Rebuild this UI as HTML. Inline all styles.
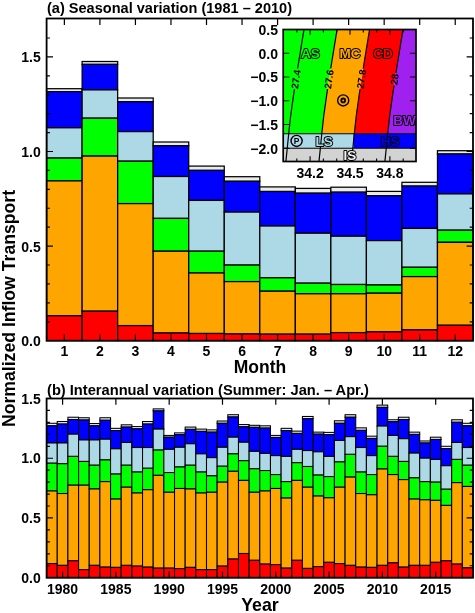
<!DOCTYPE html>
<html>
<head>
<meta charset="utf-8">
<title>Normalized Inflow Transport</title>
<style>
html,body{margin:0;padding:0;background:#fff;}
body{width:475px;height:613px;overflow:hidden;font-family:"Liberation Sans",sans-serif;}
svg{display:block;will-change:transform;}

</style>
</head>
<body>
<svg width="475" height="613" viewBox="0 0 475 613">
<rect x="0" y="0" width="475" height="613" fill="#fff"/>
<g id="panelA">
<rect x="46.6" y="88.7" width="35.53" height="3" fill="#ecece6" stroke="#000" stroke-width="1.25"/>
<rect x="46.6" y="91.7" width="35.53" height="36.1" fill="#0000ff" stroke="#000" stroke-width="1.25"/>
<rect x="46.6" y="127.8" width="35.53" height="30.3" fill="#add8e6" stroke="#000" stroke-width="1.25"/>
<rect x="46.6" y="158.1" width="35.53" height="22.8" fill="#00ff00" stroke="#000" stroke-width="1.25"/>
<rect x="46.6" y="180.9" width="35.53" height="134.9" fill="#ffa500" stroke="#000" stroke-width="1.25"/>
<rect x="46.6" y="315.8" width="35.53" height="24.9" fill="#ff0000" stroke="#000" stroke-width="1.25"/>
<rect x="82.13" y="61.5" width="35.53" height="2.9" fill="#ecece6" stroke="#000" stroke-width="1.25"/>
<rect x="82.13" y="64.4" width="35.53" height="25.5" fill="#0000ff" stroke="#000" stroke-width="1.25"/>
<rect x="82.13" y="89.9" width="35.53" height="28.3" fill="#add8e6" stroke="#000" stroke-width="1.25"/>
<rect x="82.13" y="118.2" width="35.53" height="37.9" fill="#00ff00" stroke="#000" stroke-width="1.25"/>
<rect x="82.13" y="156.1" width="35.53" height="155.1" fill="#ffa500" stroke="#000" stroke-width="1.25"/>
<rect x="82.13" y="311.2" width="35.53" height="29.5" fill="#ff0000" stroke="#000" stroke-width="1.25"/>
<rect x="117.67" y="98" width="35.53" height="3.8" fill="#ecece6" stroke="#000" stroke-width="1.25"/>
<rect x="117.67" y="101.8" width="35.53" height="29.8" fill="#0000ff" stroke="#000" stroke-width="1.25"/>
<rect x="117.67" y="131.6" width="35.53" height="29.6" fill="#add8e6" stroke="#000" stroke-width="1.25"/>
<rect x="117.67" y="161.2" width="35.53" height="42.4" fill="#00ff00" stroke="#000" stroke-width="1.25"/>
<rect x="117.67" y="203.6" width="35.53" height="122" fill="#ffa500" stroke="#000" stroke-width="1.25"/>
<rect x="117.67" y="325.6" width="35.53" height="15.1" fill="#ff0000" stroke="#000" stroke-width="1.25"/>
<rect x="153.2" y="142" width="35.53" height="3.8" fill="#ecece6" stroke="#000" stroke-width="1.25"/>
<rect x="153.2" y="145.8" width="35.53" height="30.7" fill="#0000ff" stroke="#000" stroke-width="1.25"/>
<rect x="153.2" y="176.5" width="35.53" height="41.9" fill="#add8e6" stroke="#000" stroke-width="1.25"/>
<rect x="153.2" y="218.4" width="35.53" height="32.8" fill="#00ff00" stroke="#000" stroke-width="1.25"/>
<rect x="153.2" y="251.2" width="35.53" height="81.8" fill="#ffa500" stroke="#000" stroke-width="1.25"/>
<rect x="153.2" y="333" width="35.53" height="7.7" fill="#ff0000" stroke="#000" stroke-width="1.25"/>
<rect x="188.73" y="166.1" width="35.53" height="4.3" fill="#ecece6" stroke="#000" stroke-width="1.25"/>
<rect x="188.73" y="170.4" width="35.53" height="30" fill="#0000ff" stroke="#000" stroke-width="1.25"/>
<rect x="188.73" y="200.4" width="35.53" height="50.8" fill="#add8e6" stroke="#000" stroke-width="1.25"/>
<rect x="188.73" y="251.2" width="35.53" height="21.8" fill="#00ff00" stroke="#000" stroke-width="1.25"/>
<rect x="188.73" y="273" width="35.53" height="60.5" fill="#ffa500" stroke="#000" stroke-width="1.25"/>
<rect x="188.73" y="333.5" width="35.53" height="7.2" fill="#ff0000" stroke="#000" stroke-width="1.25"/>
<rect x="224.27" y="176.7" width="35.53" height="4.6" fill="#ecece6" stroke="#000" stroke-width="1.25"/>
<rect x="224.27" y="181.3" width="35.53" height="30.8" fill="#0000ff" stroke="#000" stroke-width="1.25"/>
<rect x="224.27" y="212.1" width="35.53" height="53" fill="#add8e6" stroke="#000" stroke-width="1.25"/>
<rect x="224.27" y="265.1" width="35.53" height="16.5" fill="#00ff00" stroke="#000" stroke-width="1.25"/>
<rect x="224.27" y="281.6" width="35.53" height="52.4" fill="#ffa500" stroke="#000" stroke-width="1.25"/>
<rect x="224.27" y="334" width="35.53" height="6.7" fill="#ff0000" stroke="#000" stroke-width="1.25"/>
<rect x="259.8" y="186.9" width="35.53" height="4.6" fill="#ecece6" stroke="#000" stroke-width="1.25"/>
<rect x="259.8" y="191.5" width="35.53" height="34.5" fill="#0000ff" stroke="#000" stroke-width="1.25"/>
<rect x="259.8" y="226" width="35.53" height="51.8" fill="#add8e6" stroke="#000" stroke-width="1.25"/>
<rect x="259.8" y="277.8" width="35.53" height="13.4" fill="#00ff00" stroke="#000" stroke-width="1.25"/>
<rect x="259.8" y="291.2" width="35.53" height="43" fill="#ffa500" stroke="#000" stroke-width="1.25"/>
<rect x="259.8" y="334.2" width="35.53" height="6.5" fill="#ff0000" stroke="#000" stroke-width="1.25"/>
<rect x="295.33" y="188.4" width="35.53" height="4.8" fill="#ecece6" stroke="#000" stroke-width="1.25"/>
<rect x="295.33" y="193.2" width="35.53" height="40" fill="#0000ff" stroke="#000" stroke-width="1.25"/>
<rect x="295.33" y="233.2" width="35.53" height="50" fill="#add8e6" stroke="#000" stroke-width="1.25"/>
<rect x="295.33" y="283.2" width="35.53" height="10.6" fill="#00ff00" stroke="#000" stroke-width="1.25"/>
<rect x="295.33" y="293.8" width="35.53" height="40.4" fill="#ffa500" stroke="#000" stroke-width="1.25"/>
<rect x="295.33" y="334.2" width="35.53" height="6.5" fill="#ff0000" stroke="#000" stroke-width="1.25"/>
<rect x="330.87" y="187.2" width="35.53" height="5" fill="#ecece6" stroke="#000" stroke-width="1.25"/>
<rect x="330.87" y="192.2" width="35.53" height="44" fill="#0000ff" stroke="#000" stroke-width="1.25"/>
<rect x="330.87" y="236.2" width="35.53" height="48.3" fill="#add8e6" stroke="#000" stroke-width="1.25"/>
<rect x="330.87" y="284.5" width="35.53" height="9.3" fill="#00ff00" stroke="#000" stroke-width="1.25"/>
<rect x="330.87" y="293.8" width="35.53" height="38.8" fill="#ffa500" stroke="#000" stroke-width="1.25"/>
<rect x="330.87" y="332.6" width="35.53" height="8.1" fill="#ff0000" stroke="#000" stroke-width="1.25"/>
<rect x="366.4" y="191.4" width="35.53" height="4.4" fill="#ecece6" stroke="#000" stroke-width="1.25"/>
<rect x="366.4" y="195.8" width="35.53" height="44.8" fill="#0000ff" stroke="#000" stroke-width="1.25"/>
<rect x="366.4" y="240.6" width="35.53" height="44.4" fill="#add8e6" stroke="#000" stroke-width="1.25"/>
<rect x="366.4" y="285" width="35.53" height="8.2" fill="#00ff00" stroke="#000" stroke-width="1.25"/>
<rect x="366.4" y="293.2" width="35.53" height="38.7" fill="#ffa500" stroke="#000" stroke-width="1.25"/>
<rect x="366.4" y="331.9" width="35.53" height="8.8" fill="#ff0000" stroke="#000" stroke-width="1.25"/>
<rect x="401.93" y="182.3" width="35.53" height="3.8" fill="#ecece6" stroke="#000" stroke-width="1.25"/>
<rect x="401.93" y="186.1" width="35.53" height="42.3" fill="#0000ff" stroke="#000" stroke-width="1.25"/>
<rect x="401.93" y="228.4" width="35.53" height="38.9" fill="#add8e6" stroke="#000" stroke-width="1.25"/>
<rect x="401.93" y="267.3" width="35.53" height="9.3" fill="#00ff00" stroke="#000" stroke-width="1.25"/>
<rect x="401.93" y="276.6" width="35.53" height="53.3" fill="#ffa500" stroke="#000" stroke-width="1.25"/>
<rect x="401.93" y="329.9" width="35.53" height="10.8" fill="#ff0000" stroke="#000" stroke-width="1.25"/>
<rect x="437.47" y="150.7" width="35.53" height="3.3" fill="#ecece6" stroke="#000" stroke-width="1.25"/>
<rect x="437.47" y="154" width="35.53" height="39.9" fill="#0000ff" stroke="#000" stroke-width="1.25"/>
<rect x="437.47" y="193.9" width="35.53" height="36.3" fill="#add8e6" stroke="#000" stroke-width="1.25"/>
<rect x="437.47" y="230.2" width="35.53" height="12.1" fill="#00ff00" stroke="#000" stroke-width="1.25"/>
<rect x="437.47" y="242.3" width="35.53" height="83" fill="#ffa500" stroke="#000" stroke-width="1.25"/>
<rect x="437.47" y="325.3" width="35.53" height="15.4" fill="#ff0000" stroke="#000" stroke-width="1.25"/>
<rect x="46.6" y="18.5" width="426.4" height="322.2" fill="none" stroke="#000" stroke-width="1.8"/>
<path d="M64.37 18.5v6.4M64.37 340.7v-6.4M99.9 18.5v6.4M99.9 340.7v-6.4M135.43 18.5v6.4M135.43 340.7v-6.4M170.97 18.5v6.4M170.97 340.7v-6.4M206.5 18.5v6.4M206.5 340.7v-6.4M242.03 18.5v6.4M242.03 340.7v-6.4M277.57 18.5v6.4M277.57 340.7v-6.4M313.1 18.5v6.4M313.1 340.7v-6.4M348.63 18.5v6.4M348.63 340.7v-6.4M384.17 18.5v6.4M384.17 340.7v-6.4M419.7 18.5v6.4M419.7 340.7v-6.4M455.23 18.5v6.4M455.23 340.7v-6.4M46.6 321.78h3.3M473 321.78h-3.3M46.6 302.86h3.3M473 302.86h-3.3M46.6 283.94h3.3M473 283.94h-3.3M46.6 265.02h3.3M473 265.02h-3.3M46.6 246.1h6.4M473 246.1h-6.4M46.6 227.18h3.3M473 227.18h-3.3M46.6 208.26h3.3M473 208.26h-3.3M46.6 189.34h3.3M473 189.34h-3.3M46.6 170.42h3.3M473 170.42h-3.3M46.6 151.5h6.4M473 151.5h-6.4M46.6 132.58h3.3M473 132.58h-3.3M46.6 113.66h3.3M473 113.66h-3.3M46.6 94.74h3.3M473 94.74h-3.3M46.6 75.82h3.3M473 75.82h-3.3M46.6 56.9h6.4M473 56.9h-6.4M46.6 37.98h3.3M473 37.98h-3.3" stroke="#000" stroke-width="1.2" fill="none"/>
<text x="40.7" y="346.1" text-anchor="end" font-size="14" font-family="Liberation Sans, sans-serif" font-weight="bold">0.0</text>
<text x="40.7" y="251.5" text-anchor="end" font-size="14" font-family="Liberation Sans, sans-serif" font-weight="bold">0.5</text>
<text x="40.7" y="156.9" text-anchor="end" font-size="14" font-family="Liberation Sans, sans-serif" font-weight="bold">1.0</text>
<text x="40.7" y="62.3" text-anchor="end" font-size="14" font-family="Liberation Sans, sans-serif" font-weight="bold">1.5</text>
<text x="64.37" y="356.4" text-anchor="middle" font-size="14" font-family="Liberation Sans, sans-serif" font-weight="bold">1</text>
<text x="99.9" y="356.4" text-anchor="middle" font-size="14" font-family="Liberation Sans, sans-serif" font-weight="bold">2</text>
<text x="135.43" y="356.4" text-anchor="middle" font-size="14" font-family="Liberation Sans, sans-serif" font-weight="bold">3</text>
<text x="170.97" y="356.4" text-anchor="middle" font-size="14" font-family="Liberation Sans, sans-serif" font-weight="bold">4</text>
<text x="206.5" y="356.4" text-anchor="middle" font-size="14" font-family="Liberation Sans, sans-serif" font-weight="bold">5</text>
<text x="242.03" y="356.4" text-anchor="middle" font-size="14" font-family="Liberation Sans, sans-serif" font-weight="bold">6</text>
<text x="277.57" y="356.4" text-anchor="middle" font-size="14" font-family="Liberation Sans, sans-serif" font-weight="bold">7</text>
<text x="313.1" y="356.4" text-anchor="middle" font-size="14" font-family="Liberation Sans, sans-serif" font-weight="bold">8</text>
<text x="348.63" y="356.4" text-anchor="middle" font-size="14" font-family="Liberation Sans, sans-serif" font-weight="bold">9</text>
<text x="384.17" y="356.4" text-anchor="middle" font-size="14" font-family="Liberation Sans, sans-serif" font-weight="bold">10</text>
<text x="419.7" y="356.4" text-anchor="middle" font-size="14" font-family="Liberation Sans, sans-serif" font-weight="bold">11</text>
<text x="455.23" y="356.4" text-anchor="middle" font-size="14" font-family="Liberation Sans, sans-serif" font-weight="bold">12</text>
<text x="47" y="12.6" font-size="14.55" font-family="Liberation Sans, sans-serif" font-weight="bold">(a) Seasonal variation (1981 &#8211; 2010)</text>
<text x="260" y="373" text-anchor="middle" font-size="17.5" font-family="Liberation Sans, sans-serif" font-weight="bold">Month</text>
</g>
<g id="inset">
<rect x="283.2" y="29.5" width="132.8" height="132" fill="#fff"/>
<polygon points="283.2,29.5 337.1,29.4 333.7,50.1 331.2,65.5 326.8,94.2 323.7,116.2 321.8,133.7 283.2,133.8" fill="#00ff00"/>
<polygon points="337.1,29.4 333.7,50.1 331.2,65.5 326.8,94.2 323.7,116.2 321.8,133.7 354.3,133.7 356.2,116.2 359.3,94.2 363.7,65.5 366.2,50.1 369.6,29.4" fill="#ffa500"/>
<polygon points="369.6,29.4 366.2,50.1 363.7,65.5 359.3,94.2 356.2,116.2 354.3,133.7 387.7,133.7 389.6,116.2 392.7,94.2 397.1,65.5 399.6,50.1 403,29.4" fill="#ff0000"/>
<polygon points="403,29.4 399.6,50.1 397.1,65.5 392.7,94.2 389.6,116.2 387.7,133.7 416,133.8 416,29.5" fill="#a020f0"/>
<rect x="283.2" y="133.8" width="70.8" height="14.4" fill="#add8e6"/>
<rect x="353.6" y="133.8" width="62.4" height="14.4" fill="#0000ff"/>
<rect x="283.2" y="148.2" width="132.8" height="13.3" fill="#d3d3d3"/>
<polyline points="304,29.4 300.6,50.1 298.1,65.5 297.64,68.5" fill="none" stroke="#000" stroke-width="1.2"/>
<polyline points="294.5,89 293.7,94.2 290.6,116.2 288.7,133.7 287.25,148.2 285.9,161.4" fill="none" stroke="#000" stroke-width="1.2"/>
<polyline points="337.1,29.4 333.7,50.1 331.2,65.5 330.74,68.5" fill="none" stroke="#000" stroke-width="1.2"/>
<polyline points="327.6,89 326.8,94.2 323.7,116.2 321.8,133.7 320.35,148.2 319,161.4" fill="none" stroke="#000" stroke-width="1.2"/>
<polyline points="369.6,29.4 366.2,50.1 363.7,65.5 363.24,68.5" fill="none" stroke="#000" stroke-width="1.2"/>
<polyline points="360.1,89 359.3,94.2 356.2,116.2 354.3,133.7 352.85,148.2 351.5,161.4" fill="none" stroke="#000" stroke-width="1.2"/>
<polyline points="403,29.4 399.6,50.1 397.1,65.5 395.95,73" fill="none" stroke="#000" stroke-width="1.2"/>
<polyline points="394.03,85.5 392.7,94.2 389.6,116.2 387.7,133.7 386.25,148.2 384.9,161.4" fill="none" stroke="#000" stroke-width="1.2"/>
<path d="M283.2 133.8H416M283.2 148.2H416" stroke="#000" stroke-width="1.1" fill="none"/>
<rect x="283.2" y="29.5" width="132.8" height="132" fill="none" stroke="#000" stroke-width="1.7"/>
<path d="M296.8 29.5v3.1M296.8 161.5v-3.1M310.1 29.5v5.3M310.1 161.5v-5.3M323.4 29.5v3.1M323.4 161.5v-3.1M336.7 29.5v3.1M336.7 161.5v-3.1M350 29.5v5.3M350 161.5v-5.3M363.3 29.5v3.1M363.3 161.5v-3.1M376.6 29.5v3.1M376.6 161.5v-3.1M389.9 29.5v5.3M389.9 161.5v-5.3M403.2 29.5v3.1M403.2 161.5v-3.1M283.2 53.2h6.1M416 53.2h-6.1M283.2 76.95h6.1M416 76.95h-6.1M283.2 100.7h6.1M416 100.7h-6.1M283.2 124.45h6.1M416 124.45h-6.1M283.2 148.2h6.1M416 148.2h-6.1" stroke="#000" stroke-width="1.1" fill="none"/>
<text x="278" y="34.85" text-anchor="end" font-size="14" font-family="Liberation Sans, sans-serif" font-weight="bold">0.5</text>
<text x="278" y="58.6" text-anchor="end" font-size="14" font-family="Liberation Sans, sans-serif" font-weight="bold">0.0</text>
<text x="278" y="82.35" text-anchor="end" font-size="14" font-family="Liberation Sans, sans-serif" font-weight="bold">&#8722;0.5</text>
<text x="278" y="106.1" text-anchor="end" font-size="14" font-family="Liberation Sans, sans-serif" font-weight="bold">&#8722;1.0</text>
<text x="278" y="129.85" text-anchor="end" font-size="14" font-family="Liberation Sans, sans-serif" font-weight="bold">&#8722;1.5</text>
<text x="278" y="153.6" text-anchor="end" font-size="14" font-family="Liberation Sans, sans-serif" font-weight="bold">&#8722;2.0</text>
<text x="310.1" y="178" text-anchor="middle" font-size="14" font-family="Liberation Sans, sans-serif" font-weight="bold">34.2</text>
<text x="350" y="178" text-anchor="middle" font-size="14" font-family="Liberation Sans, sans-serif" font-weight="bold">34.5</text>
<text x="389.9" y="178" text-anchor="middle" font-size="14" font-family="Liberation Sans, sans-serif" font-weight="bold">34.8</text>
<clipPath id="insclip"><rect x="283.2" y="29.5" width="132.8" height="132"/></clipPath>
<text x="310.4" y="58" text-anchor="middle" font-size="13.5" font-family="Liberation Sans, sans-serif" font-weight="bold" fill="#00ff00" stroke="#000" stroke-width="1.9" paint-order="stroke" stroke-linejoin="round">AS</text>
<text x="350" y="58" text-anchor="middle" font-size="13.5" font-family="Liberation Sans, sans-serif" font-weight="bold" fill="#ffa500" stroke="#000" stroke-width="1.9" paint-order="stroke" stroke-linejoin="round">MC</text>
<text x="383" y="58" text-anchor="middle" font-size="13.5" font-family="Liberation Sans, sans-serif" font-weight="bold" fill="#ff0000" stroke="#000" stroke-width="1.9" paint-order="stroke" stroke-linejoin="round">CD</text>
<text x="404.5" y="124.6" text-anchor="middle" font-size="13.5" font-family="Liberation Sans, sans-serif" font-weight="bold" fill="#a020f0" stroke="#000" stroke-width="1.9" paint-order="stroke" stroke-linejoin="round" clip-path="url(#insclip)">BW</text>
<text x="324.2" y="146.2" text-anchor="middle" font-size="13.5" font-family="Liberation Sans, sans-serif" font-weight="bold" fill="#add8e6" stroke="#000" stroke-width="1.9" paint-order="stroke" stroke-linejoin="round">LS</text>
<text x="390.2" y="146.2" text-anchor="middle" font-size="13.5" font-family="Liberation Sans, sans-serif" font-weight="bold" fill="#0000ff" stroke="#000" stroke-width="1.9" paint-order="stroke" stroke-linejoin="round">HS</text>
<text x="349.8" y="159.6" text-anchor="middle" font-size="13.5" font-family="Liberation Sans, sans-serif" font-weight="bold" fill="#f2f2f2" stroke="#000" stroke-width="1.9" paint-order="stroke" stroke-linejoin="round">IS</text>
<text transform="translate(299.4 79.8) rotate(-81.5)" text-anchor="middle" font-size="9.9" font-family="Liberation Sans, sans-serif" font-weight="bold">27.4</text>
<text transform="translate(332.4 79.8) rotate(-81.5)" text-anchor="middle" font-size="9.9" font-family="Liberation Sans, sans-serif" font-weight="bold">27.6</text>
<text transform="translate(364.9 79.6) rotate(-81.5)" text-anchor="middle" font-size="9.9" font-family="Liberation Sans, sans-serif" font-weight="bold">27.8</text>
<text transform="translate(398 79.8) rotate(-81.5)" text-anchor="middle" font-size="9.9" font-family="Liberation Sans, sans-serif" font-weight="bold">28</text>
<circle cx="343.2" cy="100.4" r="5.55" fill="none" stroke="#000" stroke-width="1.4"/>
<circle cx="343.2" cy="100.4" r="1.9" fill="none" stroke="#000" stroke-width="1.8"/>
<circle cx="296.6" cy="140.9" r="5.55" fill="none" stroke="#000" stroke-width="1.4"/>
<text x="296.6" y="143.9" text-anchor="middle" font-size="8.4" font-family="Liberation Sans, sans-serif" font-weight="bold">P</text>
</g>
<g id="panelB">
<rect x="46.6" y="423.29" width="10.66" height="2.53" fill="#ecece6" stroke="#000" stroke-width="1.05"/>
<rect x="46.6" y="425.82" width="10.66" height="17.18" fill="#0000ff" stroke="#000" stroke-width="1.05"/>
<rect x="46.6" y="443" width="10.66" height="20.21" fill="#add8e6" stroke="#000" stroke-width="1.05"/>
<rect x="46.6" y="463.21" width="10.66" height="27.79" fill="#00ff00" stroke="#000" stroke-width="1.05"/>
<rect x="46.6" y="491" width="10.66" height="72.6" fill="#ffa500" stroke="#000" stroke-width="1.05"/>
<rect x="46.6" y="563.6" width="10.66" height="14.1" fill="#ff0000" stroke="#000" stroke-width="1.05"/>
<rect x="57.26" y="421.53" width="10.66" height="2.53" fill="#ecece6" stroke="#000" stroke-width="1.05"/>
<rect x="57.26" y="424.05" width="10.66" height="18.95" fill="#0000ff" stroke="#000" stroke-width="1.05"/>
<rect x="57.26" y="443" width="10.66" height="20.72" fill="#add8e6" stroke="#000" stroke-width="1.05"/>
<rect x="57.26" y="463.72" width="10.66" height="29.81" fill="#00ff00" stroke="#000" stroke-width="1.05"/>
<rect x="57.26" y="493.53" width="10.66" height="71.84" fill="#ffa500" stroke="#000" stroke-width="1.05"/>
<rect x="57.26" y="565.37" width="10.66" height="12.33" fill="#ff0000" stroke="#000" stroke-width="1.05"/>
<rect x="67.92" y="417.23" width="10.66" height="2.27" fill="#ecece6" stroke="#000" stroke-width="1.05"/>
<rect x="67.92" y="419.51" width="10.66" height="14.65" fill="#0000ff" stroke="#000" stroke-width="1.05"/>
<rect x="67.92" y="434.16" width="10.66" height="22.23" fill="#add8e6" stroke="#000" stroke-width="1.05"/>
<rect x="67.92" y="456.39" width="10.66" height="28.8" fill="#00ff00" stroke="#000" stroke-width="1.05"/>
<rect x="67.92" y="485.19" width="10.66" height="75.63" fill="#ffa500" stroke="#000" stroke-width="1.05"/>
<rect x="67.92" y="560.82" width="10.66" height="16.88" fill="#ff0000" stroke="#000" stroke-width="1.05"/>
<rect x="78.58" y="417.74" width="10.66" height="2.27" fill="#ecece6" stroke="#000" stroke-width="1.05"/>
<rect x="78.58" y="420.01" width="10.66" height="19.96" fill="#0000ff" stroke="#000" stroke-width="1.05"/>
<rect x="78.58" y="439.97" width="10.66" height="21.47" fill="#add8e6" stroke="#000" stroke-width="1.05"/>
<rect x="78.58" y="461.44" width="10.66" height="23.75" fill="#00ff00" stroke="#000" stroke-width="1.05"/>
<rect x="78.58" y="485.19" width="10.66" height="84.47" fill="#ffa500" stroke="#000" stroke-width="1.05"/>
<rect x="78.58" y="569.66" width="10.66" height="8.04" fill="#ff0000" stroke="#000" stroke-width="1.05"/>
<rect x="89.24" y="423.55" width="10.66" height="2.27" fill="#ecece6" stroke="#000" stroke-width="1.05"/>
<rect x="89.24" y="425.82" width="10.66" height="14.15" fill="#0000ff" stroke="#000" stroke-width="1.05"/>
<rect x="89.24" y="439.97" width="10.66" height="25.26" fill="#add8e6" stroke="#000" stroke-width="1.05"/>
<rect x="89.24" y="465.23" width="10.66" height="23.75" fill="#00ff00" stroke="#000" stroke-width="1.05"/>
<rect x="89.24" y="488.98" width="10.66" height="76.39" fill="#ffa500" stroke="#000" stroke-width="1.05"/>
<rect x="89.24" y="565.37" width="10.66" height="12.33" fill="#ff0000" stroke="#000" stroke-width="1.05"/>
<rect x="99.9" y="417.74" width="10.66" height="2.53" fill="#ecece6" stroke="#000" stroke-width="1.05"/>
<rect x="99.9" y="420.26" width="10.66" height="18.95" fill="#0000ff" stroke="#000" stroke-width="1.05"/>
<rect x="99.9" y="439.21" width="10.66" height="20.72" fill="#add8e6" stroke="#000" stroke-width="1.05"/>
<rect x="99.9" y="459.93" width="10.66" height="21.73" fill="#00ff00" stroke="#000" stroke-width="1.05"/>
<rect x="99.9" y="481.65" width="10.66" height="85.48" fill="#ffa500" stroke="#000" stroke-width="1.05"/>
<rect x="99.9" y="567.14" width="10.66" height="10.56" fill="#ff0000" stroke="#000" stroke-width="1.05"/>
<rect x="110.56" y="428.35" width="10.66" height="2.27" fill="#ecece6" stroke="#000" stroke-width="1.05"/>
<rect x="110.56" y="430.62" width="10.66" height="18.19" fill="#0000ff" stroke="#000" stroke-width="1.05"/>
<rect x="110.56" y="448.81" width="10.66" height="25.26" fill="#add8e6" stroke="#000" stroke-width="1.05"/>
<rect x="110.56" y="474.07" width="10.66" height="25.01" fill="#00ff00" stroke="#000" stroke-width="1.05"/>
<rect x="110.56" y="499.08" width="10.66" height="68.31" fill="#ffa500" stroke="#000" stroke-width="1.05"/>
<rect x="110.56" y="567.39" width="10.66" height="10.31" fill="#ff0000" stroke="#000" stroke-width="1.05"/>
<rect x="121.22" y="424.81" width="10.66" height="2.27" fill="#ecece6" stroke="#000" stroke-width="1.05"/>
<rect x="121.22" y="427.08" width="10.66" height="15.41" fill="#0000ff" stroke="#000" stroke-width="1.05"/>
<rect x="121.22" y="442.49" width="10.66" height="22.74" fill="#add8e6" stroke="#000" stroke-width="1.05"/>
<rect x="121.22" y="465.23" width="10.66" height="21.98" fill="#00ff00" stroke="#000" stroke-width="1.05"/>
<rect x="121.22" y="487.21" width="10.66" height="78.16" fill="#ffa500" stroke="#000" stroke-width="1.05"/>
<rect x="121.22" y="565.37" width="10.66" height="12.33" fill="#ff0000" stroke="#000" stroke-width="1.05"/>
<rect x="131.88" y="426.58" width="10.66" height="2.27" fill="#ecece6" stroke="#000" stroke-width="1.05"/>
<rect x="131.88" y="428.85" width="10.66" height="18.69" fill="#0000ff" stroke="#000" stroke-width="1.05"/>
<rect x="131.88" y="447.55" width="10.66" height="24.51" fill="#add8e6" stroke="#000" stroke-width="1.05"/>
<rect x="131.88" y="472.05" width="10.66" height="20.97" fill="#00ff00" stroke="#000" stroke-width="1.05"/>
<rect x="131.88" y="493.02" width="10.66" height="73.11" fill="#ffa500" stroke="#000" stroke-width="1.05"/>
<rect x="131.88" y="566.13" width="10.66" height="11.57" fill="#ff0000" stroke="#000" stroke-width="1.05"/>
<rect x="142.54" y="421.53" width="10.66" height="2.53" fill="#ecece6" stroke="#000" stroke-width="1.05"/>
<rect x="142.54" y="424.05" width="10.66" height="23.49" fill="#0000ff" stroke="#000" stroke-width="1.05"/>
<rect x="142.54" y="447.55" width="10.66" height="20.72" fill="#add8e6" stroke="#000" stroke-width="1.05"/>
<rect x="142.54" y="468.26" width="10.66" height="21.47" fill="#00ff00" stroke="#000" stroke-width="1.05"/>
<rect x="142.54" y="489.74" width="10.66" height="77.4" fill="#ffa500" stroke="#000" stroke-width="1.05"/>
<rect x="142.54" y="567.14" width="10.66" height="10.56" fill="#ff0000" stroke="#000" stroke-width="1.05"/>
<rect x="153.2" y="408.89" width="10.66" height="2.02" fill="#ecece6" stroke="#000" stroke-width="1.05"/>
<rect x="153.2" y="410.92" width="10.66" height="18.19" fill="#0000ff" stroke="#000" stroke-width="1.05"/>
<rect x="153.2" y="429.11" width="10.66" height="20.97" fill="#add8e6" stroke="#000" stroke-width="1.05"/>
<rect x="153.2" y="450.07" width="10.66" height="25.26" fill="#00ff00" stroke="#000" stroke-width="1.05"/>
<rect x="153.2" y="475.34" width="10.66" height="92.81" fill="#ffa500" stroke="#000" stroke-width="1.05"/>
<rect x="153.2" y="568.15" width="10.66" height="9.55" fill="#ff0000" stroke="#000" stroke-width="1.05"/>
<rect x="163.86" y="435.42" width="10.66" height="1.77" fill="#ecece6" stroke="#000" stroke-width="1.05"/>
<rect x="163.86" y="437.19" width="10.66" height="12.13" fill="#0000ff" stroke="#000" stroke-width="1.05"/>
<rect x="163.86" y="449.32" width="10.66" height="23.24" fill="#add8e6" stroke="#000" stroke-width="1.05"/>
<rect x="163.86" y="472.56" width="10.66" height="19.71" fill="#00ff00" stroke="#000" stroke-width="1.05"/>
<rect x="163.86" y="492.26" width="10.66" height="75.88" fill="#ffa500" stroke="#000" stroke-width="1.05"/>
<rect x="163.86" y="568.15" width="10.66" height="9.55" fill="#ff0000" stroke="#000" stroke-width="1.05"/>
<rect x="174.52" y="432.89" width="10.66" height="1.77" fill="#ecece6" stroke="#000" stroke-width="1.05"/>
<rect x="174.52" y="434.66" width="10.66" height="12.63" fill="#0000ff" stroke="#000" stroke-width="1.05"/>
<rect x="174.52" y="447.29" width="10.66" height="19.71" fill="#add8e6" stroke="#000" stroke-width="1.05"/>
<rect x="174.52" y="467" width="10.66" height="21.47" fill="#00ff00" stroke="#000" stroke-width="1.05"/>
<rect x="174.52" y="488.47" width="10.66" height="80.18" fill="#ffa500" stroke="#000" stroke-width="1.05"/>
<rect x="174.52" y="568.65" width="10.66" height="9.05" fill="#ff0000" stroke="#000" stroke-width="1.05"/>
<rect x="185.18" y="427.08" width="10.66" height="2.27" fill="#ecece6" stroke="#000" stroke-width="1.05"/>
<rect x="185.18" y="429.36" width="10.66" height="14.4" fill="#0000ff" stroke="#000" stroke-width="1.05"/>
<rect x="185.18" y="443.76" width="10.66" height="21.47" fill="#add8e6" stroke="#000" stroke-width="1.05"/>
<rect x="185.18" y="465.23" width="10.66" height="23.75" fill="#00ff00" stroke="#000" stroke-width="1.05"/>
<rect x="185.18" y="488.98" width="10.66" height="78.41" fill="#ffa500" stroke="#000" stroke-width="1.05"/>
<rect x="185.18" y="567.39" width="10.66" height="10.31" fill="#ff0000" stroke="#000" stroke-width="1.05"/>
<rect x="195.84" y="429.11" width="10.66" height="2.27" fill="#ecece6" stroke="#000" stroke-width="1.05"/>
<rect x="195.84" y="431.38" width="10.66" height="22.48" fill="#0000ff" stroke="#000" stroke-width="1.05"/>
<rect x="195.84" y="453.86" width="10.66" height="18.19" fill="#add8e6" stroke="#000" stroke-width="1.05"/>
<rect x="195.84" y="472.05" width="10.66" height="20.97" fill="#00ff00" stroke="#000" stroke-width="1.05"/>
<rect x="195.84" y="493.02" width="10.66" height="76.64" fill="#ffa500" stroke="#000" stroke-width="1.05"/>
<rect x="195.84" y="569.66" width="10.66" height="8.04" fill="#ff0000" stroke="#000" stroke-width="1.05"/>
<rect x="206.5" y="429.86" width="10.66" height="2.27" fill="#ecece6" stroke="#000" stroke-width="1.05"/>
<rect x="206.5" y="432.14" width="10.66" height="25.52" fill="#0000ff" stroke="#000" stroke-width="1.05"/>
<rect x="206.5" y="457.65" width="10.66" height="18.19" fill="#add8e6" stroke="#000" stroke-width="1.05"/>
<rect x="206.5" y="475.84" width="10.66" height="16.42" fill="#00ff00" stroke="#000" stroke-width="1.05"/>
<rect x="206.5" y="492.26" width="10.66" height="77.4" fill="#ffa500" stroke="#000" stroke-width="1.05"/>
<rect x="206.5" y="569.66" width="10.66" height="8.04" fill="#ff0000" stroke="#000" stroke-width="1.05"/>
<rect x="217.16" y="421.02" width="10.66" height="2.27" fill="#ecece6" stroke="#000" stroke-width="1.05"/>
<rect x="217.16" y="423.29" width="10.66" height="24" fill="#0000ff" stroke="#000" stroke-width="1.05"/>
<rect x="217.16" y="447.29" width="10.66" height="18.95" fill="#add8e6" stroke="#000" stroke-width="1.05"/>
<rect x="217.16" y="466.24" width="10.66" height="15.92" fill="#00ff00" stroke="#000" stroke-width="1.05"/>
<rect x="217.16" y="482.16" width="10.66" height="83.97" fill="#ffa500" stroke="#000" stroke-width="1.05"/>
<rect x="217.16" y="566.13" width="10.66" height="11.57" fill="#ff0000" stroke="#000" stroke-width="1.05"/>
<rect x="227.82" y="414.71" width="10.66" height="2.27" fill="#ecece6" stroke="#000" stroke-width="1.05"/>
<rect x="227.82" y="416.98" width="10.66" height="20.21" fill="#0000ff" stroke="#000" stroke-width="1.05"/>
<rect x="227.82" y="437.19" width="10.66" height="16.67" fill="#add8e6" stroke="#000" stroke-width="1.05"/>
<rect x="227.82" y="453.86" width="10.66" height="17.43" fill="#00ff00" stroke="#000" stroke-width="1.05"/>
<rect x="227.82" y="471.29" width="10.66" height="87.76" fill="#ffa500" stroke="#000" stroke-width="1.05"/>
<rect x="227.82" y="559.05" width="10.66" height="18.65" fill="#ff0000" stroke="#000" stroke-width="1.05"/>
<rect x="238.48" y="424.56" width="10.66" height="2.27" fill="#ecece6" stroke="#000" stroke-width="1.05"/>
<rect x="238.48" y="426.83" width="10.66" height="15.41" fill="#0000ff" stroke="#000" stroke-width="1.05"/>
<rect x="238.48" y="442.24" width="10.66" height="18.44" fill="#add8e6" stroke="#000" stroke-width="1.05"/>
<rect x="238.48" y="460.68" width="10.66" height="19.71" fill="#00ff00" stroke="#000" stroke-width="1.05"/>
<rect x="238.48" y="480.39" width="10.66" height="73.11" fill="#ffa500" stroke="#000" stroke-width="1.05"/>
<rect x="238.48" y="553.49" width="10.66" height="24.21" fill="#ff0000" stroke="#000" stroke-width="1.05"/>
<rect x="249.14" y="425.32" width="10.66" height="2.02" fill="#ecece6" stroke="#000" stroke-width="1.05"/>
<rect x="249.14" y="427.34" width="10.66" height="24" fill="#0000ff" stroke="#000" stroke-width="1.05"/>
<rect x="249.14" y="451.34" width="10.66" height="17.43" fill="#add8e6" stroke="#000" stroke-width="1.05"/>
<rect x="249.14" y="468.77" width="10.66" height="23.49" fill="#00ff00" stroke="#000" stroke-width="1.05"/>
<rect x="249.14" y="492.26" width="10.66" height="68.05" fill="#ffa500" stroke="#000" stroke-width="1.05"/>
<rect x="249.14" y="560.32" width="10.66" height="17.38" fill="#ff0000" stroke="#000" stroke-width="1.05"/>
<rect x="259.8" y="425.82" width="10.66" height="2.27" fill="#ecece6" stroke="#000" stroke-width="1.05"/>
<rect x="259.8" y="428.09" width="10.66" height="25.26" fill="#0000ff" stroke="#000" stroke-width="1.05"/>
<rect x="259.8" y="453.36" width="10.66" height="17.18" fill="#add8e6" stroke="#000" stroke-width="1.05"/>
<rect x="259.8" y="470.54" width="10.66" height="20.46" fill="#00ff00" stroke="#000" stroke-width="1.05"/>
<rect x="259.8" y="491" width="10.66" height="73.11" fill="#ffa500" stroke="#000" stroke-width="1.05"/>
<rect x="259.8" y="564.11" width="10.66" height="13.59" fill="#ff0000" stroke="#000" stroke-width="1.05"/>
<rect x="270.46" y="435.42" width="10.66" height="2.02" fill="#ecece6" stroke="#000" stroke-width="1.05"/>
<rect x="270.46" y="437.44" width="10.66" height="18.19" fill="#0000ff" stroke="#000" stroke-width="1.05"/>
<rect x="270.46" y="455.63" width="10.66" height="18.95" fill="#add8e6" stroke="#000" stroke-width="1.05"/>
<rect x="270.46" y="474.58" width="10.66" height="13.89" fill="#00ff00" stroke="#000" stroke-width="1.05"/>
<rect x="270.46" y="488.47" width="10.66" height="76.14" fill="#ffa500" stroke="#000" stroke-width="1.05"/>
<rect x="270.46" y="564.61" width="10.66" height="13.09" fill="#ff0000" stroke="#000" stroke-width="1.05"/>
<rect x="281.12" y="428.35" width="10.66" height="2.27" fill="#ecece6" stroke="#000" stroke-width="1.05"/>
<rect x="281.12" y="430.62" width="10.66" height="25.77" fill="#0000ff" stroke="#000" stroke-width="1.05"/>
<rect x="281.12" y="456.39" width="10.66" height="25.26" fill="#add8e6" stroke="#000" stroke-width="1.05"/>
<rect x="281.12" y="481.65" width="10.66" height="16.42" fill="#00ff00" stroke="#000" stroke-width="1.05"/>
<rect x="281.12" y="498.07" width="10.66" height="70.07" fill="#ffa500" stroke="#000" stroke-width="1.05"/>
<rect x="281.12" y="568.15" width="10.66" height="9.55" fill="#ff0000" stroke="#000" stroke-width="1.05"/>
<rect x="291.78" y="431.13" width="10.66" height="2.27" fill="#ecece6" stroke="#000" stroke-width="1.05"/>
<rect x="291.78" y="433.4" width="10.66" height="15.92" fill="#0000ff" stroke="#000" stroke-width="1.05"/>
<rect x="291.78" y="449.32" width="10.66" height="13.39" fill="#add8e6" stroke="#000" stroke-width="1.05"/>
<rect x="291.78" y="462.71" width="10.66" height="17.68" fill="#00ff00" stroke="#000" stroke-width="1.05"/>
<rect x="291.78" y="480.39" width="10.66" height="79.93" fill="#ffa500" stroke="#000" stroke-width="1.05"/>
<rect x="291.78" y="560.32" width="10.66" height="17.38" fill="#ff0000" stroke="#000" stroke-width="1.05"/>
<rect x="302.44" y="416.47" width="10.66" height="2.27" fill="#ecece6" stroke="#000" stroke-width="1.05"/>
<rect x="302.44" y="418.75" width="10.66" height="31.83" fill="#0000ff" stroke="#000" stroke-width="1.05"/>
<rect x="302.44" y="450.58" width="10.66" height="15.92" fill="#add8e6" stroke="#000" stroke-width="1.05"/>
<rect x="302.44" y="466.49" width="10.66" height="20.72" fill="#00ff00" stroke="#000" stroke-width="1.05"/>
<rect x="302.44" y="487.21" width="10.66" height="81.19" fill="#ffa500" stroke="#000" stroke-width="1.05"/>
<rect x="302.44" y="568.4" width="10.66" height="9.3" fill="#ff0000" stroke="#000" stroke-width="1.05"/>
<rect x="313.1" y="432.14" width="10.66" height="2.02" fill="#ecece6" stroke="#000" stroke-width="1.05"/>
<rect x="313.1" y="434.16" width="10.66" height="17.68" fill="#0000ff" stroke="#000" stroke-width="1.05"/>
<rect x="313.1" y="451.84" width="10.66" height="23.24" fill="#add8e6" stroke="#000" stroke-width="1.05"/>
<rect x="313.1" y="475.08" width="10.66" height="20.97" fill="#00ff00" stroke="#000" stroke-width="1.05"/>
<rect x="313.1" y="496.05" width="10.66" height="70.58" fill="#ffa500" stroke="#000" stroke-width="1.05"/>
<rect x="313.1" y="566.63" width="10.66" height="11.07" fill="#ff0000" stroke="#000" stroke-width="1.05"/>
<rect x="323.76" y="432.39" width="10.66" height="2.27" fill="#ecece6" stroke="#000" stroke-width="1.05"/>
<rect x="323.76" y="434.66" width="10.66" height="21.73" fill="#0000ff" stroke="#000" stroke-width="1.05"/>
<rect x="323.76" y="456.39" width="10.66" height="20.21" fill="#add8e6" stroke="#000" stroke-width="1.05"/>
<rect x="323.76" y="476.6" width="10.66" height="21.22" fill="#00ff00" stroke="#000" stroke-width="1.05"/>
<rect x="323.76" y="497.82" width="10.66" height="64.52" fill="#ffa500" stroke="#000" stroke-width="1.05"/>
<rect x="323.76" y="562.34" width="10.66" height="15.36" fill="#ff0000" stroke="#000" stroke-width="1.05"/>
<rect x="334.42" y="420.77" width="10.66" height="2.53" fill="#ecece6" stroke="#000" stroke-width="1.05"/>
<rect x="334.42" y="423.29" width="10.66" height="17.18" fill="#0000ff" stroke="#000" stroke-width="1.05"/>
<rect x="334.42" y="440.47" width="10.66" height="21.47" fill="#add8e6" stroke="#000" stroke-width="1.05"/>
<rect x="334.42" y="461.95" width="10.66" height="25.26" fill="#00ff00" stroke="#000" stroke-width="1.05"/>
<rect x="334.42" y="487.21" width="10.66" height="76.39" fill="#ffa500" stroke="#000" stroke-width="1.05"/>
<rect x="334.42" y="563.6" width="10.66" height="14.1" fill="#ff0000" stroke="#000" stroke-width="1.05"/>
<rect x="345.08" y="414.71" width="10.66" height="2.53" fill="#ecece6" stroke="#000" stroke-width="1.05"/>
<rect x="345.08" y="417.23" width="10.66" height="19.45" fill="#0000ff" stroke="#000" stroke-width="1.05"/>
<rect x="345.08" y="436.68" width="10.66" height="17.68" fill="#add8e6" stroke="#000" stroke-width="1.05"/>
<rect x="345.08" y="454.37" width="10.66" height="22.74" fill="#00ff00" stroke="#000" stroke-width="1.05"/>
<rect x="345.08" y="477.11" width="10.66" height="88.26" fill="#ffa500" stroke="#000" stroke-width="1.05"/>
<rect x="345.08" y="565.37" width="10.66" height="12.33" fill="#ff0000" stroke="#000" stroke-width="1.05"/>
<rect x="355.74" y="427.84" width="10.66" height="2.53" fill="#ecece6" stroke="#000" stroke-width="1.05"/>
<rect x="355.74" y="430.37" width="10.66" height="17.18" fill="#0000ff" stroke="#000" stroke-width="1.05"/>
<rect x="355.74" y="447.55" width="10.66" height="24.51" fill="#add8e6" stroke="#000" stroke-width="1.05"/>
<rect x="355.74" y="472.05" width="10.66" height="21.47" fill="#00ff00" stroke="#000" stroke-width="1.05"/>
<rect x="355.74" y="493.53" width="10.66" height="73.61" fill="#ffa500" stroke="#000" stroke-width="1.05"/>
<rect x="355.74" y="567.14" width="10.66" height="10.56" fill="#ff0000" stroke="#000" stroke-width="1.05"/>
<rect x="366.4" y="436.18" width="10.66" height="2.27" fill="#ecece6" stroke="#000" stroke-width="1.05"/>
<rect x="366.4" y="438.45" width="10.66" height="17.18" fill="#0000ff" stroke="#000" stroke-width="1.05"/>
<rect x="366.4" y="455.63" width="10.66" height="18.95" fill="#add8e6" stroke="#000" stroke-width="1.05"/>
<rect x="366.4" y="474.58" width="10.66" height="20.21" fill="#00ff00" stroke="#000" stroke-width="1.05"/>
<rect x="366.4" y="494.79" width="10.66" height="72.6" fill="#ffa500" stroke="#000" stroke-width="1.05"/>
<rect x="366.4" y="567.39" width="10.66" height="10.31" fill="#ff0000" stroke="#000" stroke-width="1.05"/>
<rect x="377.06" y="405.11" width="10.66" height="2.27" fill="#ecece6" stroke="#000" stroke-width="1.05"/>
<rect x="377.06" y="407.38" width="10.66" height="18.69" fill="#0000ff" stroke="#000" stroke-width="1.05"/>
<rect x="377.06" y="426.07" width="10.66" height="20.21" fill="#add8e6" stroke="#000" stroke-width="1.05"/>
<rect x="377.06" y="446.28" width="10.66" height="22.74" fill="#00ff00" stroke="#000" stroke-width="1.05"/>
<rect x="377.06" y="469.02" width="10.66" height="96.35" fill="#ffa500" stroke="#000" stroke-width="1.05"/>
<rect x="377.06" y="565.37" width="10.66" height="12.33" fill="#ff0000" stroke="#000" stroke-width="1.05"/>
<rect x="387.72" y="419.76" width="10.66" height="2.02" fill="#ecece6" stroke="#000" stroke-width="1.05"/>
<rect x="387.72" y="421.78" width="10.66" height="13.64" fill="#0000ff" stroke="#000" stroke-width="1.05"/>
<rect x="387.72" y="435.42" width="10.66" height="20.97" fill="#add8e6" stroke="#000" stroke-width="1.05"/>
<rect x="387.72" y="456.39" width="10.66" height="18.19" fill="#00ff00" stroke="#000" stroke-width="1.05"/>
<rect x="387.72" y="474.58" width="10.66" height="88.26" fill="#ffa500" stroke="#000" stroke-width="1.05"/>
<rect x="387.72" y="562.84" width="10.66" height="14.86" fill="#ff0000" stroke="#000" stroke-width="1.05"/>
<rect x="398.38" y="417.23" width="10.66" height="2.27" fill="#ecece6" stroke="#000" stroke-width="1.05"/>
<rect x="398.38" y="419.51" width="10.66" height="19.2" fill="#0000ff" stroke="#000" stroke-width="1.05"/>
<rect x="398.38" y="438.71" width="10.66" height="22.74" fill="#add8e6" stroke="#000" stroke-width="1.05"/>
<rect x="398.38" y="461.44" width="10.66" height="18.19" fill="#00ff00" stroke="#000" stroke-width="1.05"/>
<rect x="398.38" y="479.63" width="10.66" height="87.51" fill="#ffa500" stroke="#000" stroke-width="1.05"/>
<rect x="398.38" y="567.14" width="10.66" height="10.56" fill="#ff0000" stroke="#000" stroke-width="1.05"/>
<rect x="409.04" y="432.14" width="10.66" height="2.27" fill="#ecece6" stroke="#000" stroke-width="1.05"/>
<rect x="409.04" y="434.41" width="10.66" height="18.69" fill="#0000ff" stroke="#000" stroke-width="1.05"/>
<rect x="409.04" y="453.11" width="10.66" height="24.76" fill="#add8e6" stroke="#000" stroke-width="1.05"/>
<rect x="409.04" y="477.86" width="10.66" height="21.22" fill="#00ff00" stroke="#000" stroke-width="1.05"/>
<rect x="409.04" y="499.08" width="10.66" height="66.28" fill="#ffa500" stroke="#000" stroke-width="1.05"/>
<rect x="409.04" y="565.37" width="10.66" height="12.33" fill="#ff0000" stroke="#000" stroke-width="1.05"/>
<rect x="419.7" y="440.98" width="10.66" height="2.02" fill="#ecece6" stroke="#000" stroke-width="1.05"/>
<rect x="419.7" y="443" width="10.66" height="15.16" fill="#0000ff" stroke="#000" stroke-width="1.05"/>
<rect x="419.7" y="458.16" width="10.66" height="23.49" fill="#add8e6" stroke="#000" stroke-width="1.05"/>
<rect x="419.7" y="481.65" width="10.66" height="18.19" fill="#00ff00" stroke="#000" stroke-width="1.05"/>
<rect x="419.7" y="499.84" width="10.66" height="65.53" fill="#ffa500" stroke="#000" stroke-width="1.05"/>
<rect x="419.7" y="565.37" width="10.66" height="12.33" fill="#ff0000" stroke="#000" stroke-width="1.05"/>
<rect x="430.36" y="437.19" width="10.66" height="2.27" fill="#ecece6" stroke="#000" stroke-width="1.05"/>
<rect x="430.36" y="439.46" width="10.66" height="19.96" fill="#0000ff" stroke="#000" stroke-width="1.05"/>
<rect x="430.36" y="459.42" width="10.66" height="22.74" fill="#add8e6" stroke="#000" stroke-width="1.05"/>
<rect x="430.36" y="482.16" width="10.66" height="18.19" fill="#00ff00" stroke="#000" stroke-width="1.05"/>
<rect x="430.36" y="500.35" width="10.66" height="61.99" fill="#ffa500" stroke="#000" stroke-width="1.05"/>
<rect x="430.36" y="562.34" width="10.66" height="15.36" fill="#ff0000" stroke="#000" stroke-width="1.05"/>
<rect x="441.02" y="446.28" width="10.66" height="2.27" fill="#ecece6" stroke="#000" stroke-width="1.05"/>
<rect x="441.02" y="448.56" width="10.66" height="17.18" fill="#0000ff" stroke="#000" stroke-width="1.05"/>
<rect x="441.02" y="465.74" width="10.66" height="23.49" fill="#add8e6" stroke="#000" stroke-width="1.05"/>
<rect x="441.02" y="489.23" width="10.66" height="16.17" fill="#00ff00" stroke="#000" stroke-width="1.05"/>
<rect x="441.02" y="505.4" width="10.66" height="55.42" fill="#ffa500" stroke="#000" stroke-width="1.05"/>
<rect x="441.02" y="560.82" width="10.66" height="16.88" fill="#ff0000" stroke="#000" stroke-width="1.05"/>
<rect x="451.68" y="419.76" width="10.66" height="2.53" fill="#ecece6" stroke="#000" stroke-width="1.05"/>
<rect x="451.68" y="422.28" width="10.66" height="20.21" fill="#0000ff" stroke="#000" stroke-width="1.05"/>
<rect x="451.68" y="442.49" width="10.66" height="16.93" fill="#add8e6" stroke="#000" stroke-width="1.05"/>
<rect x="451.68" y="459.42" width="10.66" height="23.24" fill="#00ff00" stroke="#000" stroke-width="1.05"/>
<rect x="451.68" y="482.66" width="10.66" height="81.44" fill="#ffa500" stroke="#000" stroke-width="1.05"/>
<rect x="451.68" y="564.11" width="10.66" height="13.59" fill="#ff0000" stroke="#000" stroke-width="1.05"/>
<rect x="462.34" y="423.29" width="10.66" height="2.53" fill="#ecece6" stroke="#000" stroke-width="1.05"/>
<rect x="462.34" y="425.82" width="10.66" height="21.73" fill="#0000ff" stroke="#000" stroke-width="1.05"/>
<rect x="462.34" y="447.55" width="10.66" height="17.68" fill="#add8e6" stroke="#000" stroke-width="1.05"/>
<rect x="462.34" y="465.23" width="10.66" height="21.22" fill="#00ff00" stroke="#000" stroke-width="1.05"/>
<rect x="462.34" y="486.45" width="10.66" height="81.44" fill="#ffa500" stroke="#000" stroke-width="1.05"/>
<rect x="462.34" y="567.89" width="10.66" height="9.81" fill="#ff0000" stroke="#000" stroke-width="1.05"/>
<rect x="46.6" y="398.5" width="426.4" height="179.2" fill="none" stroke="#000" stroke-width="1.8"/>
<text x="62.59" y="593.7" text-anchor="middle" font-size="14" font-family="Liberation Sans, sans-serif" font-weight="bold">1980</text>
<text x="115.89" y="593.7" text-anchor="middle" font-size="14" font-family="Liberation Sans, sans-serif" font-weight="bold">1985</text>
<text x="169.19" y="593.7" text-anchor="middle" font-size="14" font-family="Liberation Sans, sans-serif" font-weight="bold">1990</text>
<text x="222.49" y="593.7" text-anchor="middle" font-size="14" font-family="Liberation Sans, sans-serif" font-weight="bold">1995</text>
<text x="275.79" y="593.7" text-anchor="middle" font-size="14" font-family="Liberation Sans, sans-serif" font-weight="bold">2000</text>
<text x="329.09" y="593.7" text-anchor="middle" font-size="14" font-family="Liberation Sans, sans-serif" font-weight="bold">2005</text>
<text x="382.39" y="593.7" text-anchor="middle" font-size="14" font-family="Liberation Sans, sans-serif" font-weight="bold">2010</text>
<text x="435.69" y="593.7" text-anchor="middle" font-size="14" font-family="Liberation Sans, sans-serif" font-weight="bold">2015</text>
<path d="M62.59 398.5v6.2M62.59 577.7v-6.2M115.89 398.5v6.2M115.89 577.7v-6.2M169.19 398.5v6.2M169.19 577.7v-6.2M222.49 398.5v6.2M222.49 577.7v-6.2M275.79 398.5v6.2M275.79 577.7v-6.2M329.09 398.5v6.2M329.09 577.7v-6.2M382.39 398.5v6.2M382.39 577.7v-6.2M435.69 398.5v6.2M435.69 577.7v-6.2M46.6 565.75h3.3M473 565.75h-3.3M46.6 553.81h3.3M473 553.81h-3.3M46.6 541.86h3.3M473 541.86h-3.3M46.6 529.91h3.3M473 529.91h-3.3M46.6 517.97h6.4M473 517.97h-6.4M46.6 506.02h3.3M473 506.02h-3.3M46.6 494.07h3.3M473 494.07h-3.3M46.6 482.13h3.3M473 482.13h-3.3M46.6 470.18h3.3M473 470.18h-3.3M46.6 458.23h6.4M473 458.23h-6.4M46.6 446.29h3.3M473 446.29h-3.3M46.6 434.34h3.3M473 434.34h-3.3M46.6 422.39h3.3M473 422.39h-3.3M46.6 410.45h3.3M473 410.45h-3.3" stroke="#000" stroke-width="1.2" fill="none"/>
<text x="40.7" y="582.7" text-anchor="end" font-size="14" font-family="Liberation Sans, sans-serif" font-weight="bold">0.0</text>
<text x="40.7" y="522.97" text-anchor="end" font-size="14" font-family="Liberation Sans, sans-serif" font-weight="bold">0.5</text>
<text x="40.7" y="463.23" text-anchor="end" font-size="14" font-family="Liberation Sans, sans-serif" font-weight="bold">1.0</text>
<text x="40.7" y="403.5" text-anchor="end" font-size="14" font-family="Liberation Sans, sans-serif" font-weight="bold">1.5</text>
<text x="47" y="395.2" font-size="14.66" font-family="Liberation Sans, sans-serif" font-weight="bold">(b) Interannual variation (Summer: Jan. &#8211; Apr.)</text>
<text x="260" y="610.5" text-anchor="middle" font-size="17.8" font-family="Liberation Sans, sans-serif" font-weight="bold">Year</text>
</g>
<text transform="translate(14.8 308.5) rotate(-90)" text-anchor="middle" font-size="17.65" font-family="Liberation Sans, sans-serif" font-weight="bold">Normalized Inflow Transport</text>
</svg>
</body>
</html>
